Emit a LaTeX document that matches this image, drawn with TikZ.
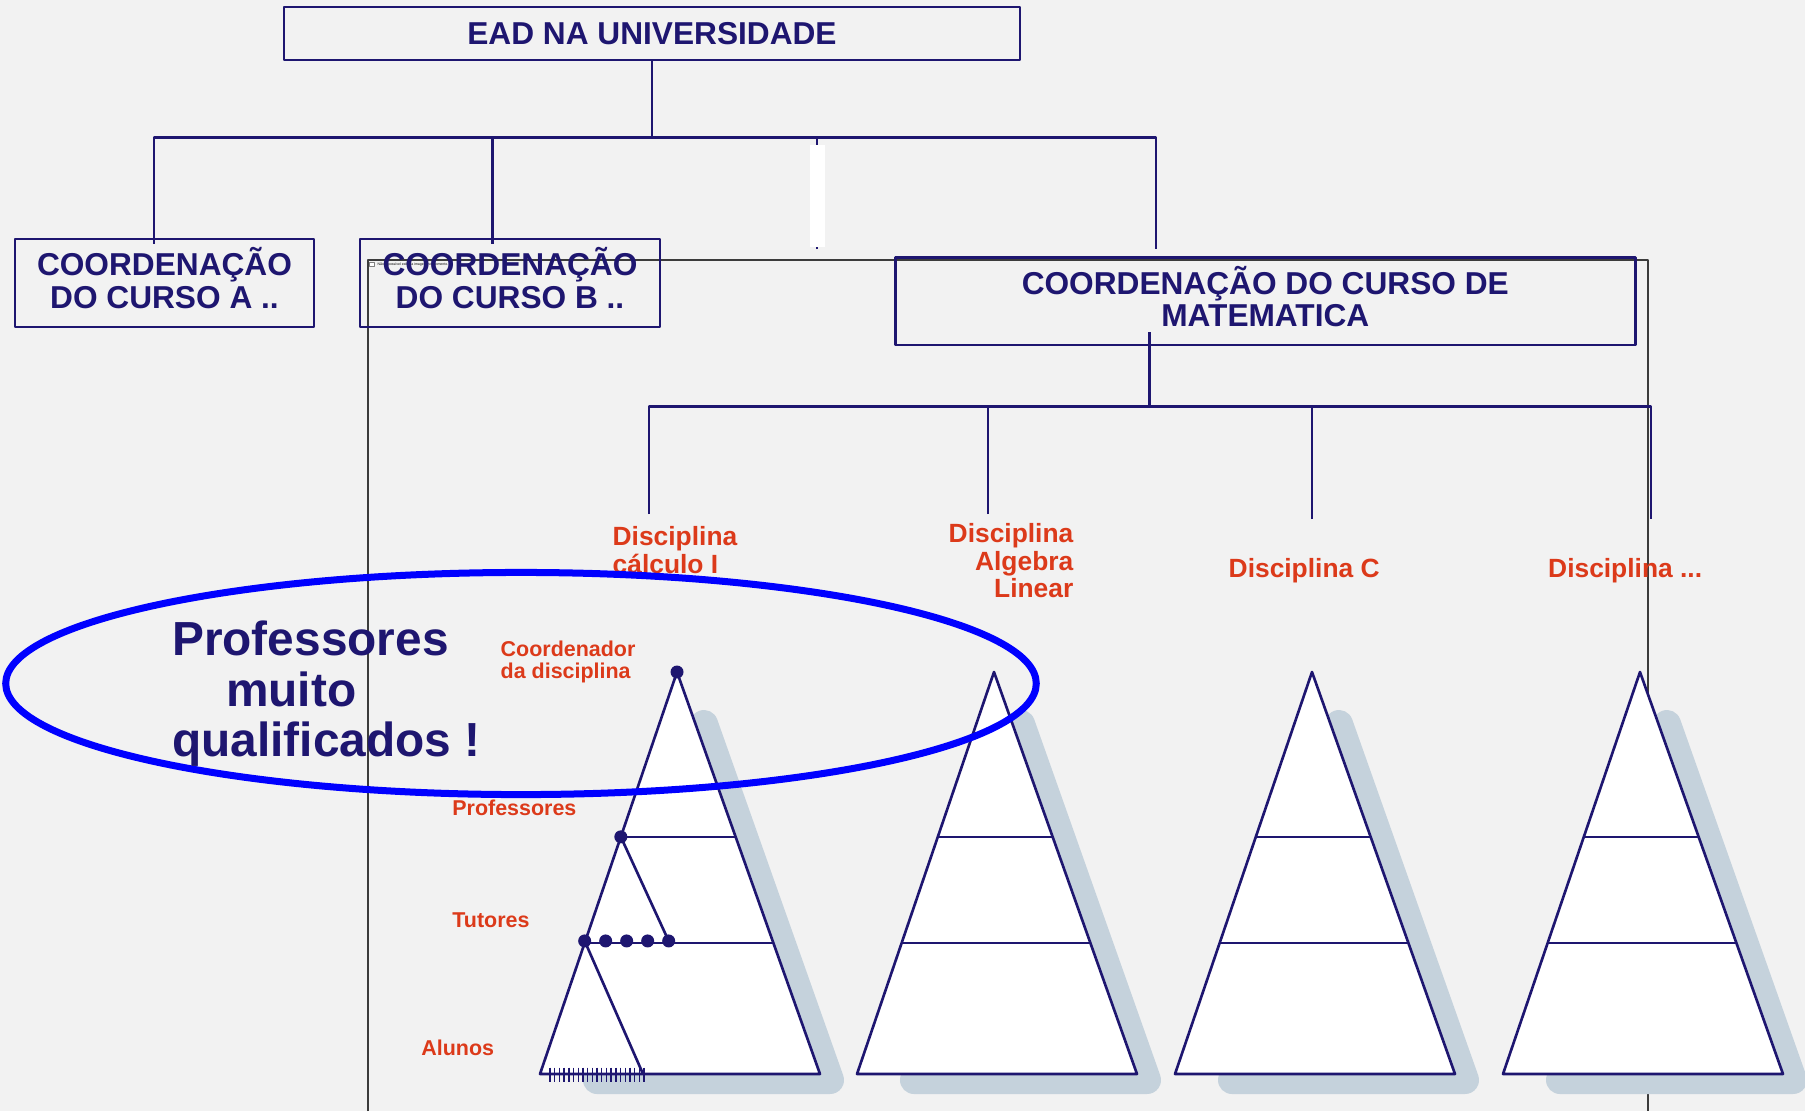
\documentclass[tikz,border=0pt]{standalone}
\usepackage{fontspec}
\setmainfont{Liberation Sans}
\usetikzlibrary{positioning,calc,shapes.geometric}

\definecolor{navy}{HTML}{1E1670}
\definecolor{rouge}{HTML}{DC3A1A}
\definecolor{slide}{HTML}{F2F2F2}
\definecolor{shade}{HTML}{C5D2DC}
\definecolor{imgframe}{HTML}{3C3C3C}

\begin{document}
\begin{tikzpicture}[%
    x=0.01cm, y=-0.01cm,        % one unit = one pixel of the slide
    line join=round,
    ]

\tikzset{
    box/.style={draw=navy, line width=0.8pt, rectangle, align=center, text=navy, inner sep=0pt,
        font={\fontsize{9}{9.2}\selectfont\bfseries}},
    % accents make the text sit too low
    accbox/.style={box, execute at end node={\rule[-0.1cm]{0pt}{0pt}}},
    tree/.style={draw=navy, line width=0.8pt},
    disc/.style={text=rouge, inner sep=0pt, font={\fontsize{7.5}{7.8}\selectfont\bfseries}},
    level/.style={text=rouge, inner sep=0pt, anchor=base west, font={\fontsize{6.1}{6.2}\selectfont\bfseries}},
    dot/.style={circle, fill=navy, inner sep=0pt, minimum size=0.13cm},
    pyr/.style={fill=white, draw=navy, line width=0.75pt},
    rung/.style={draw=navy, line width=0.75pt},
    pyrshade/.style={draw=shade, line width=0.28cm, line cap=round, line join=round},
}

% slide background
\fill[slide] (0,0) rectangle (1805,1111);
\useasboundingbox (0,0) rectangle (1805,1111);

% frame of the missing picture
\draw[imgframe, line width=0.35pt] (368,1111) |- (1648,260) -- (1648,1111);
\node[draw=gray, fill=white, inner sep=0pt, minimum size=0.045cm] (icon) at (372,264.5) {};
\node[anchor=west, inner sep=0pt, font={\fontsize{1}{1.2}\selectfont}] (broken) at (377,264.5) {Não é possível exibir a imagem no momento.};

%% Boxes
\node [box, minimum width=7.357cm, minimum height=0.53cm] (ead) at (652,33.5) {EAD NA UNIVERSIDADE};
\node [accbox, minimum width=2.99cm, minimum height=0.88cm] (cursoA) at (164.5,283) {COORDENAÇÃO\\DO CURSO A ..};
\node [accbox, minimum width=3.0cm, minimum height=0.88cm] (cursoB) at (510,283) {COORDENAÇÃO\\DO CURSO B ..};
\node [accbox, minimum width=7.395cm, minimum height=0.87cm] (mat) at (1265.3,301.4) {COORDENAÇÃO DO CURSO DE\\MATEMATICA};

% first level of the tree
\draw[tree] (ead.south) -- ++(0,76) coordinate (bus);
\coordinate (dropA) at ([xshift=-0.105cm, yshift=-0.06cm]cursoA.north);
\coordinate (dropB) at ([xshift=-0.173cm, yshift=-0.06cm]cursoB.north);
\coordinate (dropX) at (817,249);
\coordinate (dropM) at (1156,249);
    \draw[tree] (dropA) -- (dropA |- bus) -- (dropM |- bus) -- (dropM);
    \draw[tree] (dropB) -- (dropB |- bus);
    \draw[tree] (dropX) -- (dropX |- bus);
\node[fill=white, inner sep=0pt, minimum width=0.15cm, minimum height=1.02cm] (gap) at (817.5,196) {};

% second level of the tree
\coordinate (bus2) at ([xshift=-1.156cm, yshift=-0.6cm]mat.south);
\coordinate (d1) at (649,514);
\coordinate (d2) at (988,514);
\coordinate (d3) at (1312,519);
\coordinate (d4) at (1651,519);
    \draw[tree] ([xshift=-1.156cm, yshift=0.14cm]mat.south) -- (bus2);
    \draw[tree] (d1) |- (bus2) -| (d4);
    \draw[tree] (d2) -- (d2 |- bus2);
    \draw[tree] (d3) -- (d3 |- bus2);

\node[disc, anchor=north west, align=left] (calc) at (612,526) {Disciplina\\cálculo I};
\node[disc, anchor=north east, align=right] (alg) at (1074,523) {Disciplina\\Algebra\\Linear};
\node[disc, anchor=base west] (discC) at (1228,577) {Disciplina C};
\node[disc, anchor=base west] (discN) at (1547.5,577) {Disciplina ...};

%% Pyramids
\foreach \p/\ax in {1/677, 2/994, 3/1312, 4/1640} {
    \coordinate (top\p) at (\ax,672);
    \coordinate (left\p) at (\ax-137,1074);
    \coordinate (right\p) at (\ax+143,1074);
    \draw[pyrshade] (\ax+27,724) -- (\ax+153,1080) -- (\ax-80,1080);
    \draw[pyr] (top\p) -- (left\p) -- (right\p) -- cycle;
    \draw[rung] ($(top\p)!0.41!(left\p)$) coordinate (prof\p) -- ($(top\p)!0.41!(right\p)$);
    \draw[rung] ($(top\p)!0.674!(left\p)$) coordinate (tut\p) -- ($(top\p)!0.674!(right\p)$);
}

% people in the first pyramid
\node[dot] (coordDot) at (top1) {};
\node[dot] (profDot) at (prof1) {};
\foreach \k in {0,...,4}
    \node[dot] (tut-\k) at ($(tut1)+(21*\k,-2)$) {};
\draw[rung] (profDot.center) -- (tut-4.center);
\draw[rung] (tut-0.center) -- ($(left1)!0.368!(right1)$);
\foreach \k in {0,...,20}
    \draw[navy, line width=0.4pt] (550+4.7*\k,1067.5) -- ++(0,14);

\node[level, anchor=north west, align=left] (lblCoord) at (500,640.5) {Coordenador\\da disciplina};
\node[level] (lblProf) at (451.7,815.7) {Professores};
\node[level] (lblTut) at (451.7,927.3) {Tutores};
\node[level] (lblAlu) at (420.7,1055.7) {Alunos};

%% Highlight
\node[ellipse, draw=blue, line width=0.07cm, inner sep=0pt, minimum width=10.3cm, minimum height=2.22cm] (hilite) at (521,683.5) {};
\node[text=navy, align=left, inner sep=0pt, anchor=north west, font={\fontsize{13.6}{14.4}\selectfont\bfseries}] (quali) at (171.5,620) {Professores\\\hspace*{0.54cm}muito\\qualificados !};
\end{tikzpicture}
\end{document}
